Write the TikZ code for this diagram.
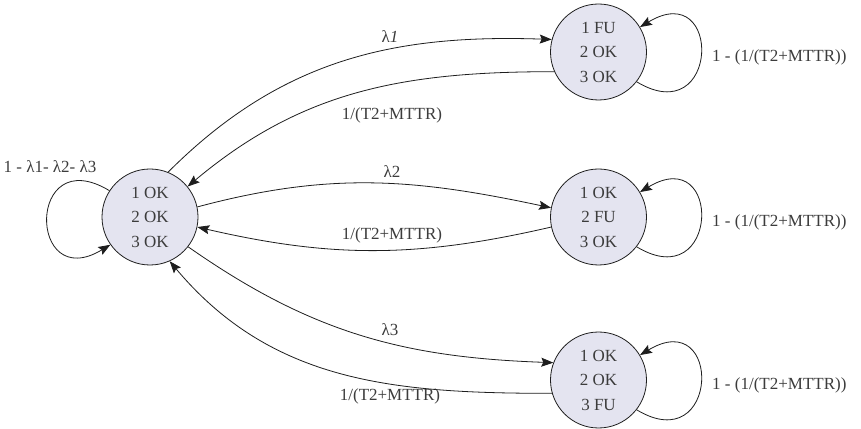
\documentclass[tikz,border=0pt]{standalone}
\usepackage{fontspec}
\setmainfont{Liberation Serif}
\usetikzlibrary{arrows.meta}
\definecolor{statefill}{RGB}{228,228,240}
\definecolor{textgray}{RGB}{60,60,60}
\definecolor{linegray}{RGB}{30,30,30}
\begin{document}
\begin{tikzpicture}[x=1pt,y=1pt,
  state/.style={circle, draw=linegray, line width=0.8pt, fill=statefill, minimum size=96pt, inner sep=0pt, align=center, text=textgray, font=\fontsize{17}{24.5}\selectfont},
  lbl/.style={text=textgray, font=\fontsize{17}{20}\selectfont, inner sep=0pt},
  edge/.style={draw=linegray, line width=0.8pt, -{Stealth[length=12pt,width=9pt,inset=2pt]}}]
\fill[white] (0,0) rectangle (861,428);
\useasboundingbox (0,0) rectangle (861,428);

\node[state] (s0) at (150,211) {1 OK\\2 OK\\3 OK};
\node[state] (s1) at (598.5,376) {1 FU\\2 OK\\3 OK};
\node[state] (s2) at (598.5,211) {1 OK\\2 FU\\3 OK};
\node[state] (s3) at (598.5,48) {1 OK\\2 OK\\3 FU};

\draw[edge] (s0.68) to[out=45,in=178] (s1.165);
\draw[edge] (s1.204) to[out=180,in=40] (s0.39);
\draw[edge] (s0.12) to[out=15,in=168] (s2.169);
\draw[edge] (s2.192) to[out=193,in=-13] (s0.-12);
\draw[edge] (s0.-38) to[out=-35,in=178] (s3.159);
\draw[edge] (s3.196) to[out=180,in=-50] (s0.-66);

\draw[edge] (s0.147) .. controls +(-83,50) and +(-83,-50) .. (s0.215);
\draw[edge] (s1.-38) .. controls +(83,-50) and +(83,50) .. (s1.31);
\draw[edge] (s2.-38) .. controls +(83,-50) and +(83,50) .. (s2.31);
\draw[edge] (s3.-38) .. controls +(83,-50) and +(83,50) .. (s3.31);

\node[lbl] (l1) at (390,391) {λ\textit{1}};
\node[lbl] (r1) at (392,313) {1/(T2+MTTR)};
\node[lbl] (l2) at (392,256) {λ2};
\node[lbl] (r2) at (392,193) {1/(T2+MTTR)};
\node[lbl] (l3) at (390,98) {λ3};
\node[lbl] (r3) at (390,32) {1/(T2+MTTR)};
\node[lbl] (ls0) at (50,261) {1 - λ1- λ2- λ3};
\node[lbl, anchor=west] (ls1) at (712,371) {1 - (1/(T2+MTTR))};
\node[lbl, anchor=west] (ls2) at (712,206) {1 - (1/(T2+MTTR))};
\node[lbl, anchor=west] (ls3) at (712,43) {1 - (1/(T2+MTTR))};
\end{tikzpicture}
\end{document}
